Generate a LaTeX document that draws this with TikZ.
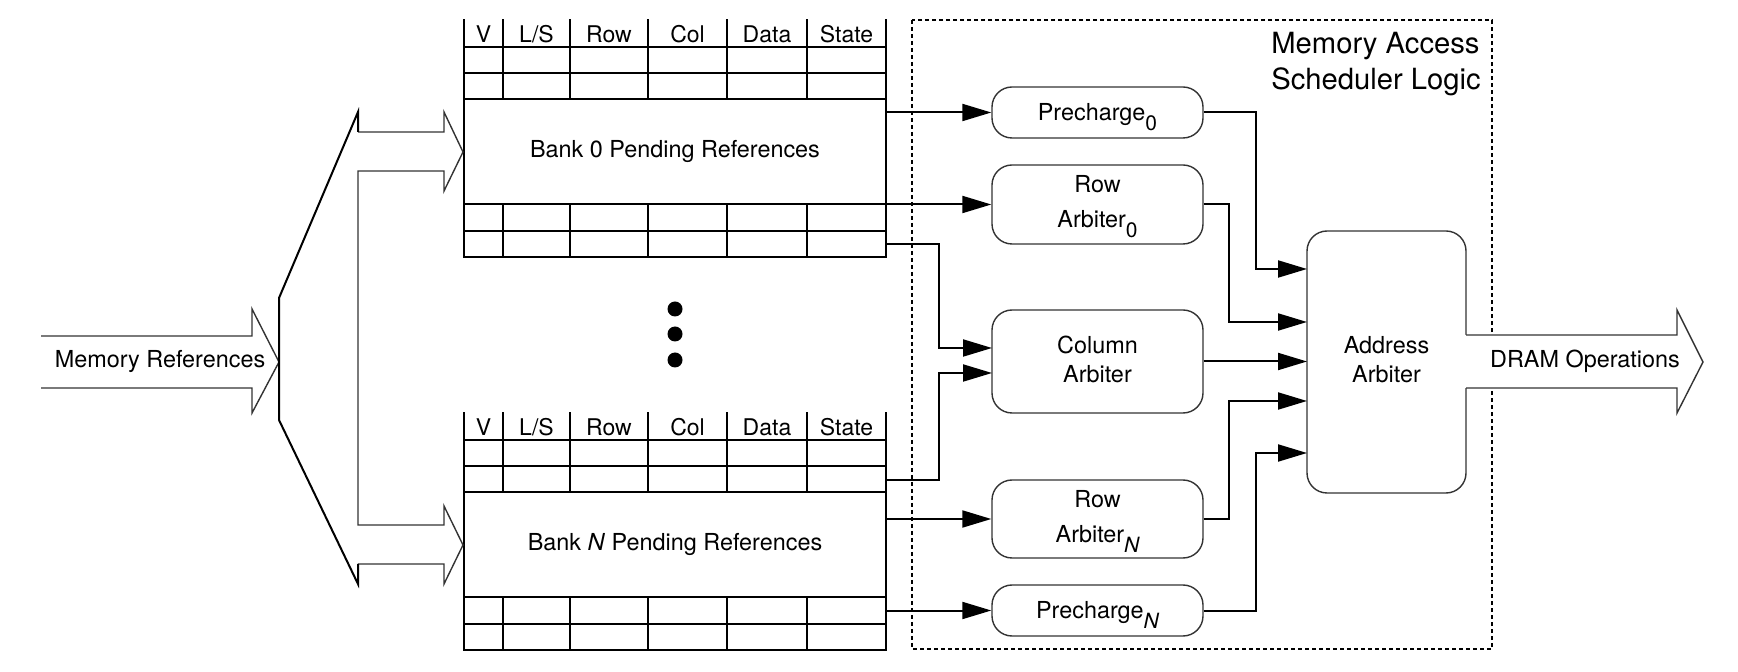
\documentclass[tikz,border=0pt]{standalone}
\usepackage{fontspec}
\setmainfont{TeX Gyre Heros}
\usetikzlibrary{arrows.meta,calc}
\newcommand\lowsub[1]{\raisebox{-5pt}{\fontsize{10.5}{10.5}\selectfont #1}}
\newcommand\banktable[3]{%
  \begin{scope}[shift={(0,#3)}]
    \draw[tline] (464,20) -- (464,257) (886,20) -- (886,257);
    \foreach \x in {503,570,648,727,807} \draw[tline] (\x,20) -- (\x,99) (\x,204) -- (\x,257);
    \foreach \y in {47,73,99,204,231,257} \draw[tline] (464,\y) -- (886,\y);
    \foreach \c/\t [count=\i] in {483.5/V,536.5/{L/S},609/Row,687.5/Col,767/Data,846.5/State}
      \node[hdr] (#1h\i) at (\c,34) {\t};
    \node[txt] (#1) at (675,151.5) {#2};
  \end{scope}}
\begin{document}
\begin{tikzpicture}[x=0.5pt,y=-0.5pt,
  tline/.style={line width=1pt,black,line cap=rect},
  outl/.style={line width=0.7pt,draw=black!80,line join=miter},
  conn/.style={line width=1pt,-{Triangle[length=14.5pt,width=8.5pt]}},
  rbox/.style={draw=black!80,line width=0.7pt,rounded corners=10pt,minimum width=105.5pt,align=center,inner sep=0pt,font=\fontsize{11.7}{14.5}\selectfont},
  txt/.style={font=\fontsize{11.7}{14.5}\selectfont,inner sep=0pt,align=center},
  hdr/.style={font=\fontsize{11.5}{13}\selectfont,inner sep=0pt},
]
\useasboundingbox (0,0) rectangle (1738,672);

% pending reference tables
\banktable{bank0}{Bank 0 Pending References}{0}
\banktable{bankN}{Bank \textit{N} Pending References}{393}

% dots
\fill (675,309) circle (3.75pt);
\fill (675,334) circle (3.75pt);
\fill (675,360) circle (3.75pt);

% memory references input arrow
\draw[outl] (41,336) -- (252,336) -- (252,309) -- (279,362) -- (252,413) -- (252,388) -- (41,388);
\node[txt] (memref) at (160,361) {Memory References};

% fork
\draw[outl] (358,132) -- (444,132) -- (444,112) -- (463,152) -- (444,191) -- (444,171) -- (358,171)
  -- (358,525) -- (444,525) -- (444,506) -- (463,545) -- (444,584) -- (444,564) -- (358,564);
\draw[line width=1pt,line join=miter] (358,132) -- (358,112) -- (279,298) -- (279,420) -- (358,584) -- (358,564);

% scheduler logic region
\draw[line width=0.75pt,dash pattern=on 2.2pt off 1.3pt] (912,20) rectangle (1492,649);
\node[font=\fontsize{14.6}{18}\selectfont,align=left,anchor=north west,inner sep=0pt] (title) at (1271,32) {Memory Access\\Scheduler Logic};

% arbiters
\node[rbox,minimum height=25.5pt] (pre0) at (1097.5,112.5) {\rule{0pt}{13pt}Precharge\lowsub{0}};
\node[rbox,minimum height=39.5pt] (ra0) at (1097.5,204.5) {\rule{0pt}{11pt}Row\\[3pt]Arbiter\lowsub{0}};
\node[rbox,minimum height=51.5pt] (col) at (1097.5,361.5) {Column\\Arbiter\rule[-2.5pt]{0pt}{2.5pt}};
\node[rbox,minimum height=39pt] (raN) at (1097.5,519) {\rule{0pt}{11pt}Row\\[3pt]Arbiter\lowsub{\itshape N}};
\node[rbox,minimum height=25.5pt] (preN) at (1097.5,610.5) {\rule{0pt}{13pt}Precharge\lowsub{\itshape N}};
\node[rbox,minimum width=79.5pt,minimum height=131pt] (aa) at (1386.5,362) {Address\\Arbiter\rule[-2.5pt]{0pt}{2.5pt}};

% output arrow
\fill[white] (1463,335) -- (1677,335) -- (1677,310) -- (1703,362) -- (1677,413) -- (1677,388) -- (1463,388) -- cycle;
\draw[outl] (1466,335) -- (1677,335) -- (1677,310) -- (1703,362) -- (1677,413) -- (1677,388) -- (1466,388);
\node[txt] (dram) at (1585,361) {DRAM Operations};

% coordinates
\coordinate (b0a) at (886,112.5);
\coordinate (b0b) at (886,204.5);
\coordinate (b0c) at (886,244);
\coordinate (bNa) at (886,480);
\coordinate (bNb) at (886,519);
\coordinate (bNc) at (886,610.5);
\coordinate (cin1) at (992,348);
\coordinate (cin2) at (992,373);
\coordinate (in1) at (1307,269);
\coordinate (in2) at (1307,322);
\coordinate (in3) at (1307,361.5);
\coordinate (in4) at (1307,401);
\coordinate (in5) at (1307,453);

% connectors
\draw[conn] (b0a) -- (pre0.west);
\draw[conn] (b0b) -- (ra0.west);
\draw[conn] (b0c) -| (939,348) -- (cin1);
\draw[conn] (bNa) -| (939,373) -- (cin2);
\draw[conn] (bNb) -- (raN.west);
\draw[conn] (bNc) -- (preN.west);

\draw[conn] (pre0.east) -| (1256,269) -- (in1);
\draw[conn] (ra0.east) -| (1229,322) -- (in2);
\draw[conn] (col.east) -- (in3);
\draw[conn] (raN.east) -| (1229,401) -- (in4);
\draw[conn] (preN.east) -| (1256,453) -- (in5);
\end{tikzpicture}
\end{document}
